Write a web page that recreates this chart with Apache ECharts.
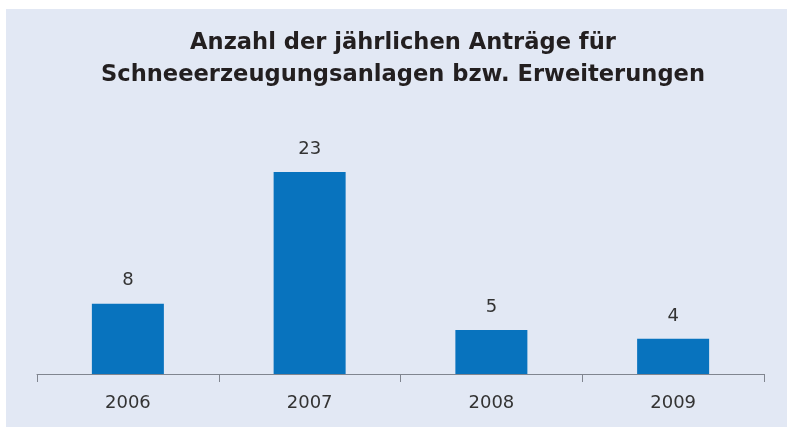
<!DOCTYPE html>
<html>
<head>
<meta charset="utf-8">
<script src="https://cdn.jsdelivr.net/npm/echarts@6/dist/echarts.min.js"></script>
<style>
  html, body { margin: 0; padding: 0; background: #ffffff; }
  #chart { width: 787px; height: 427px; }
</style>
</head>
<body>
<div id="chart"></div>
<script>
// data
const years = ['2006', '2007', '2008', '2009'];
const antraege = [8, 23, 5, 4];

const titleText = 'Anzahl der jährlichen Anträge für\nSchneeerzeugungsanlagen bzw. Erweiterungen';

const chart = echarts.init(document.getElementById('chart'));

chart.setOption({
  backgroundColor: 'transparent',
  animation: false,
  graphic: [{
    type: 'rect',
    z: -10,
    shape: { x: 6, y: 9, width: 781, height: 418 },
    style: { fill: '#e2e8f4' }
  }],
  title: {
    text: titleText,
    left: 403, // centre point of the title block
    textAlign: 'center',
    top: 27,
    padding: 0,
    textStyle: {
      fontFamily: 'DejaVu Sans',
      fontSize: 22.6,
      fontWeight: 'bold',
      color: '#231f20',
      lineHeight: 32
    }
  },
  grid: { left: 37, right: 23, top: 172, bottom: 53 },
  xAxis: {
    type: 'category',
    data: years,
    axisLine: { lineStyle: { color: '#80858f', width: 1 } },
    axisTick: { show: true, length: 8, lineStyle: { color: '#80858f' } },
    axisLabel: {
      margin: 20,
      fontFamily: 'DejaVu Sans',
      fontSize: 18,
      color: '#333333'
    }
  },
  yAxis: {
    type: 'value',
    min: 0,
    max: 23,
    show: false,
    splitLine: { show: false }
  },
  series: [{
    type: 'bar',
    data: antraege,
    barWidth: 72,
    itemStyle: { color: '#0873be' },
    label: {
      show: true,
      position: 'top',
      distance: 14,
      fontFamily: 'DejaVu Sans',
      fontSize: 18,
      color: '#333333'
    }
  }]
});
</script>
</body>
</html>
